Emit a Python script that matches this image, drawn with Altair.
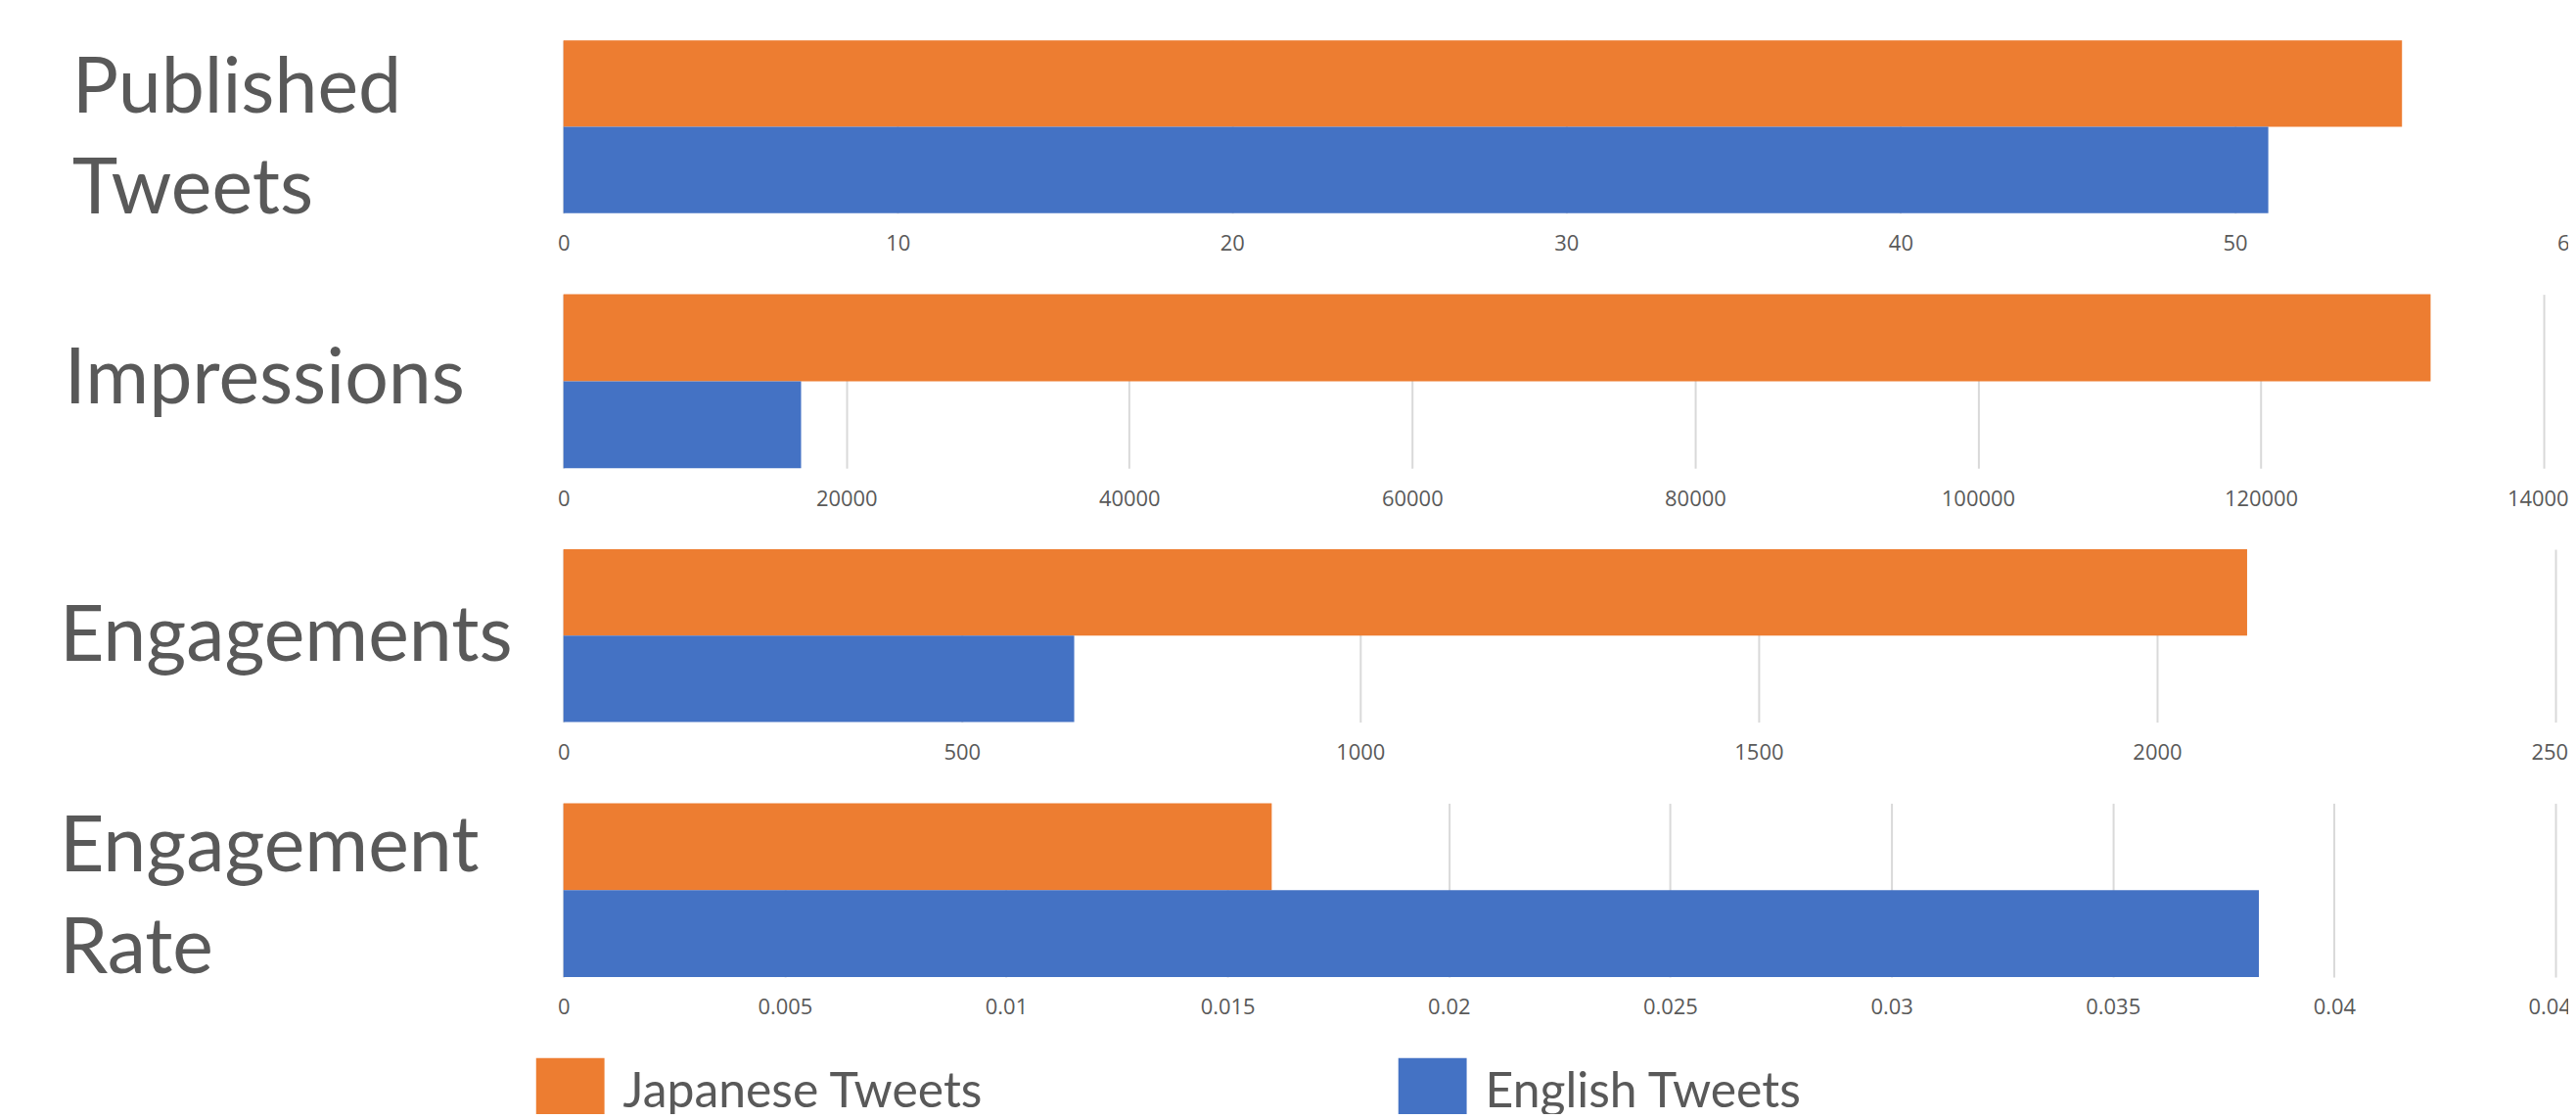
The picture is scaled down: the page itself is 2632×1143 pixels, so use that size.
import altair as alt
import pandas as pd

metrics = ["Published Tweets", "Impressions", "Engagements", "Engagement Rate"]
title_lines = [["Published", "Tweets"], ["Impressions"], ["Engagements"], ["Engagement", "Rate"]]
series = ["Japanese Tweets", "English Tweets"]
japanese_values = [55, 132000, 2113, 0.0160]
english_values = [51, 16800, 641, 0.0383]
axis_max = [60, 140000, 2500, 0.045]
tick_values = [
    [0, 10, 20, 30, 40, 50, 60],
    [0, 20000, 40000, 60000, 80000, 100000, 120000, 140000],
    [0, 500, 1000, 1500, 2000, 2500],
    [0, 0.005, 0.01, 0.015, 0.02, 0.025, 0.03, 0.035, 0.04, 0.045],
]
colors = ["#ED7D31", "#4472C4"]

rows = []
for m, j, e in zip(metrics, japanese_values, english_values):
    rows.append({"metric": m, "series": series[0], "value": j})
    rows.append({"metric": m, "series": series[1], "value": e})
df = pd.DataFrame(rows)

widths = [2054, 2028, 2040, 2040]
heights = [177, 178, 177, 178]
title_x = [-503.5, -511.5, -516.5, -516.5]
title_y = [73, 111, 114, 69]

legend = alt.Legend(
    orient="none", legendX=-28, legendY=1042, direction="horizontal", title=None,
    symbolType="M-1,-1H1V0.714H-1Z", symbolSize=4900, symbolStrokeWidth=0,
    labelFont="Lato", labelFontSize=50, labelColor="#595959", labelOffset=19,
    labelLimit=1000, columnPadding=424, padding=0,
)

panels = []
for i, m in enumerate(metrics):
    p = alt.Chart(df).transform_filter(alt.datum.metric == m).mark_bar().encode(
        x=alt.X(
            "value:Q",
            scale=alt.Scale(domain=[0, axis_max[i]], nice=False, zero=True),
            axis=alt.Axis(
                values=tick_values[i], labelExpr="'' + datum.value", title=None, grid=True,
                gridColor="#D9D9D9", gridWidth=2, ticks=False, tickSize=0, domain=False,
                labelFont="Open Sans", labelFontSize=22, labelColor="#595959",
                labelPadding=21, labelFlush=False, labelOverlap=False,
            ),
        ),
        y=alt.Y(
            "series:N", sort=series,
            scale=alt.Scale(paddingInner=0, paddingOuter=0),
            axis=alt.Axis(
                labels=False, ticks=False, domain=False, grid=False,
                title=title_lines[i], titleAngle=0, titleAlign="left",
                titleBaseline="alphabetic", titleX=title_x[i], titleY=title_y[i],
                titleFont="Lato", titleFontSize=79, titleFontWeight="normal",
                titleColor="#595959", titleLineHeight=104,
            ),
        ),
        color=alt.Color("series:N", scale=alt.Scale(domain=series, range=colors), legend=legend),
    ).properties(width=widths[i], height=heights[i])
    panels.append(p)

chart = alt.vconcat(*panels, spacing=83, bounds="flush").resolve_scale(
    x="independent", y="independent", color="shared"
).resolve_legend(color="shared").configure_view(stroke=None).properties(
    padding={"left": 52, "top": 32, "right": -16, "bottom": -4}
)

chart.save("out.html", embed_options={"renderer": "svg", "actions": False})
